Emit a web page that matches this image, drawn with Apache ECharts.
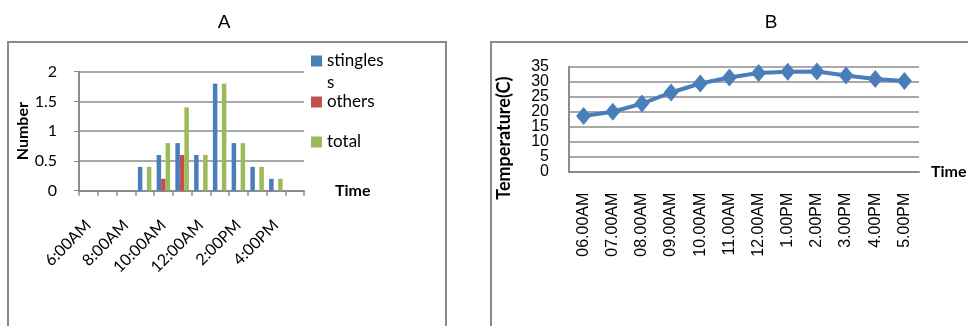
<!DOCTYPE html>
<html>
<head>
<meta charset="utf-8">
<script src="https://cdn.jsdelivr.net/npm/echarts@6/dist/echarts.min.js"></script>
<style>
  html, body { margin: 0; padding: 0; background: #fff; }
  #chart { width: 968px; height: 326px; }
</style>
</head>
<body>
<div id="chart"></div>
<script>
// Panel A: bee visits per hour
var hoursA = ['6:00AM', '7:00AM', '8:00AM', '9:00AM', '10:00AM', '11:00AM',
              '12:00AM', '1:00PM', '2:00PM', '3:00PM', '4:00PM', '5:00PM'];
var stingless = [0, 0, 0, 0.4, 0.6, 0.8, 0.6, 1.8, 0.8, 0.4, 0.2, 0];
var others    = [0, 0, 0, 0, 0.2, 0.6, 0, 0, 0, 0, 0, 0];
var total     = [0, 0, 0, 0.4, 0.8, 1.4, 0.6, 1.8, 0.8, 0.4, 0.2, 0];
var ticksA = [0, 0.5, 1, 1.5, 2];

// Panel B: air temperature through the day
var hoursB = ['06.00AM', '07.00AM', '08.00AM', '09.00AM', '10.00AM', '11.00AM',
              '12.00AM', '1.00PM', '2.00PM', '3.00PM', '4.00PM', '5.00PM'];
var temperature = [18.6, 20.0, 22.7, 26.4, 29.4, 31.4, 32.9, 33.3, 33.4, 32.1, 30.9, 30.2];
var ticksB = [0, 5, 10, 15, 20, 25, 30, 35];

var BLUE = '#4a7ebb', RED = '#c0504d', GREEN = '#9bbb59';
var GRID_LINE = '#8c8c8c';
var fontA = 'Lato, "Open Sans", sans-serif';
var fontB = '"Liberation Sans", Arial, sans-serif';

var chart = echarts.init(document.getElementById('chart'), null, { renderer: 'canvas' });

function legendFor(name, top, label) {
  return {
    data: [name],
    left: 311, top: top,
    orient: 'vertical',
    icon: 'rect', itemWidth: 11, itemHeight: 11,
    selectedMode: false,
    padding: 0,
    formatter: function () { return label; },
    textStyle: { fontFamily: fontA, fontSize: 17, color: '#000', lineHeight: 22 }
  };
}

// The temperature tick labels sit closer than their glyph height, so they are
// split over two stacked axes (even and odd steps) to keep every label shown.
function tempLabels(keepOdd) {
  return {
    margin: 20, fontFamily: fontB, fontSize: 16, color: '#000',
    showMinLabel: true, showMaxLabel: true,
    formatter: function (v) {
      var odd = Math.round(v / 5) % 2 === 1;
      return odd === keepOdd ? String(v) : '';
    }
  };
}

chart.setOption({
  animation: false,
  title: [
    { text: 'A', left: 219, top: 8, textAlign: 'center',
      textStyle: { fontFamily: fontB, fontSize: 19, fontWeight: 'normal', color: '#000' } },
    { text: 'B', left: 766, top: 8, textAlign: 'center',
      textStyle: { fontFamily: fontB, fontSize: 19, fontWeight: 'normal', color: '#000' } }
  ],
  graphic: [
    { type: 'rect', shape: { x: 8, y: 42, width: 438, height: 320 },
      style: { fill: 'none', stroke: '#8a8a8a', lineWidth: 2 }, silent: true },
    { type: 'rect', shape: { x: 491, y: 42, width: 520, height: 320 },
      style: { fill: 'none', stroke: '#8a8a8a', lineWidth: 2 }, silent: true }
  ],
  legend: [
    legendFor('stingless', 28, ' \nstingles\ns'),
    legendFor('others', 91, 'others'),
    legendFor('total', 131, 'total')
  ],
  grid: [
    { left: 79, top: 71.7, width: 225, height: 119 },
    { left: 569, top: 66.7, width: 350, height: 105 }
  ],
  xAxis: [
    {
      gridIndex: 0, type: 'category', data: hoursA,
      name: 'Time', nameLocation: 'end', nameGap: 31,
      nameTextStyle: { fontFamily: fontA, fontSize: 16, fontWeight: 'bold', color: '#000', padding: [0, 0, 7, 0] },
      axisLine: { lineStyle: { color: GRID_LINE, width: 2 } },
      axisTick: { show: true, length: 5, interval: 0, lineStyle: { color: GRID_LINE, width: 1.5 } },
      axisLabel: { interval: 1, rotate: 45, margin: 32, fontFamily: fontA, fontSize: 16, color: '#000' },
      splitLine: { show: false }
    },
    {
      gridIndex: 1, type: 'category', data: hoursB,
      name: 'Time', nameLocation: 'end', nameGap: 12,
      nameTextStyle: { fontFamily: fontA, fontSize: 16, fontWeight: 'bold', color: '#000' },
      axisLine: { lineStyle: { color: GRID_LINE, width: 2 } },
      axisTick: { show: false },
      axisLabel: { interval: 0, rotate: 90, margin: 21, fontFamily: fontB, fontSize: 16, color: '#000' },
      splitLine: { show: false }
    }
  ],
  yAxis: [
    {
      gridIndex: 0, type: 'value', min: ticksA[0], max: ticksA[ticksA.length - 1], interval: 0.5,
      name: 'Number', nameLocation: 'middle', nameGap: 47,
      nameTextStyle: { fontFamily: fontA, fontSize: 16, fontWeight: 'bold', color: '#000' },
      axisLine: { show: true, lineStyle: { color: GRID_LINE, width: 2 } },
      axisTick: { show: true, length: 5, lineStyle: { color: GRID_LINE } },
      axisLabel: { margin: 22, fontFamily: fontA, fontSize: 16, color: '#000' },
      splitLine: { lineStyle: { color: GRID_LINE, width: 1.5 } }
    },
    {
      gridIndex: 1, type: 'value', position: 'left',
      min: ticksB[0], max: ticksB[ticksB.length - 1], interval: 5,
      name: 'Temperature(C)', nameLocation: 'middle', nameGap: 56,
      nameTextStyle: { fontFamily: fontA, fontSize: 18, fontWeight: 'bold', color: '#000', padding: [0, 38, 0, 0] },
      axisLine: { show: true, lineStyle: { color: GRID_LINE, width: 2 } },
      axisTick: { show: false },
      axisLabel: tempLabels(false),
      splitLine: { lineStyle: { color: GRID_LINE, width: 1.5 } }
    },
    {
      gridIndex: 1, type: 'value', position: 'left', offset: 0,
      min: ticksB[0], max: ticksB[ticksB.length - 1], interval: 5,
      axisLine: { show: false },
      axisTick: { show: false },
      axisLabel: tempLabels(true),
      splitLine: { show: false }
    }
  ],
  series: [
    { name: 'stingless', type: 'bar', xAxisIndex: 0, yAxisIndex: 0, data: stingless,
      itemStyle: { color: BLUE }, barGap: '0%', barCategoryGap: '28%' },
    { name: 'others', type: 'bar', xAxisIndex: 0, yAxisIndex: 0, data: others,
      itemStyle: { color: RED }, barGap: '0%', barCategoryGap: '28%' },
    { name: 'total', type: 'bar', xAxisIndex: 0, yAxisIndex: 0, data: total,
      itemStyle: { color: GREEN }, barGap: '0%', barCategoryGap: '28%' },
    { name: 'Temperature', type: 'line', xAxisIndex: 1, yAxisIndex: 1, data: temperature,
      symbol: 'diamond', symbolSize: [15, 18],
      lineStyle: { color: BLUE, width: 4 },
      itemStyle: { color: BLUE } }
  ]
});
</script>
</body>
</html>
